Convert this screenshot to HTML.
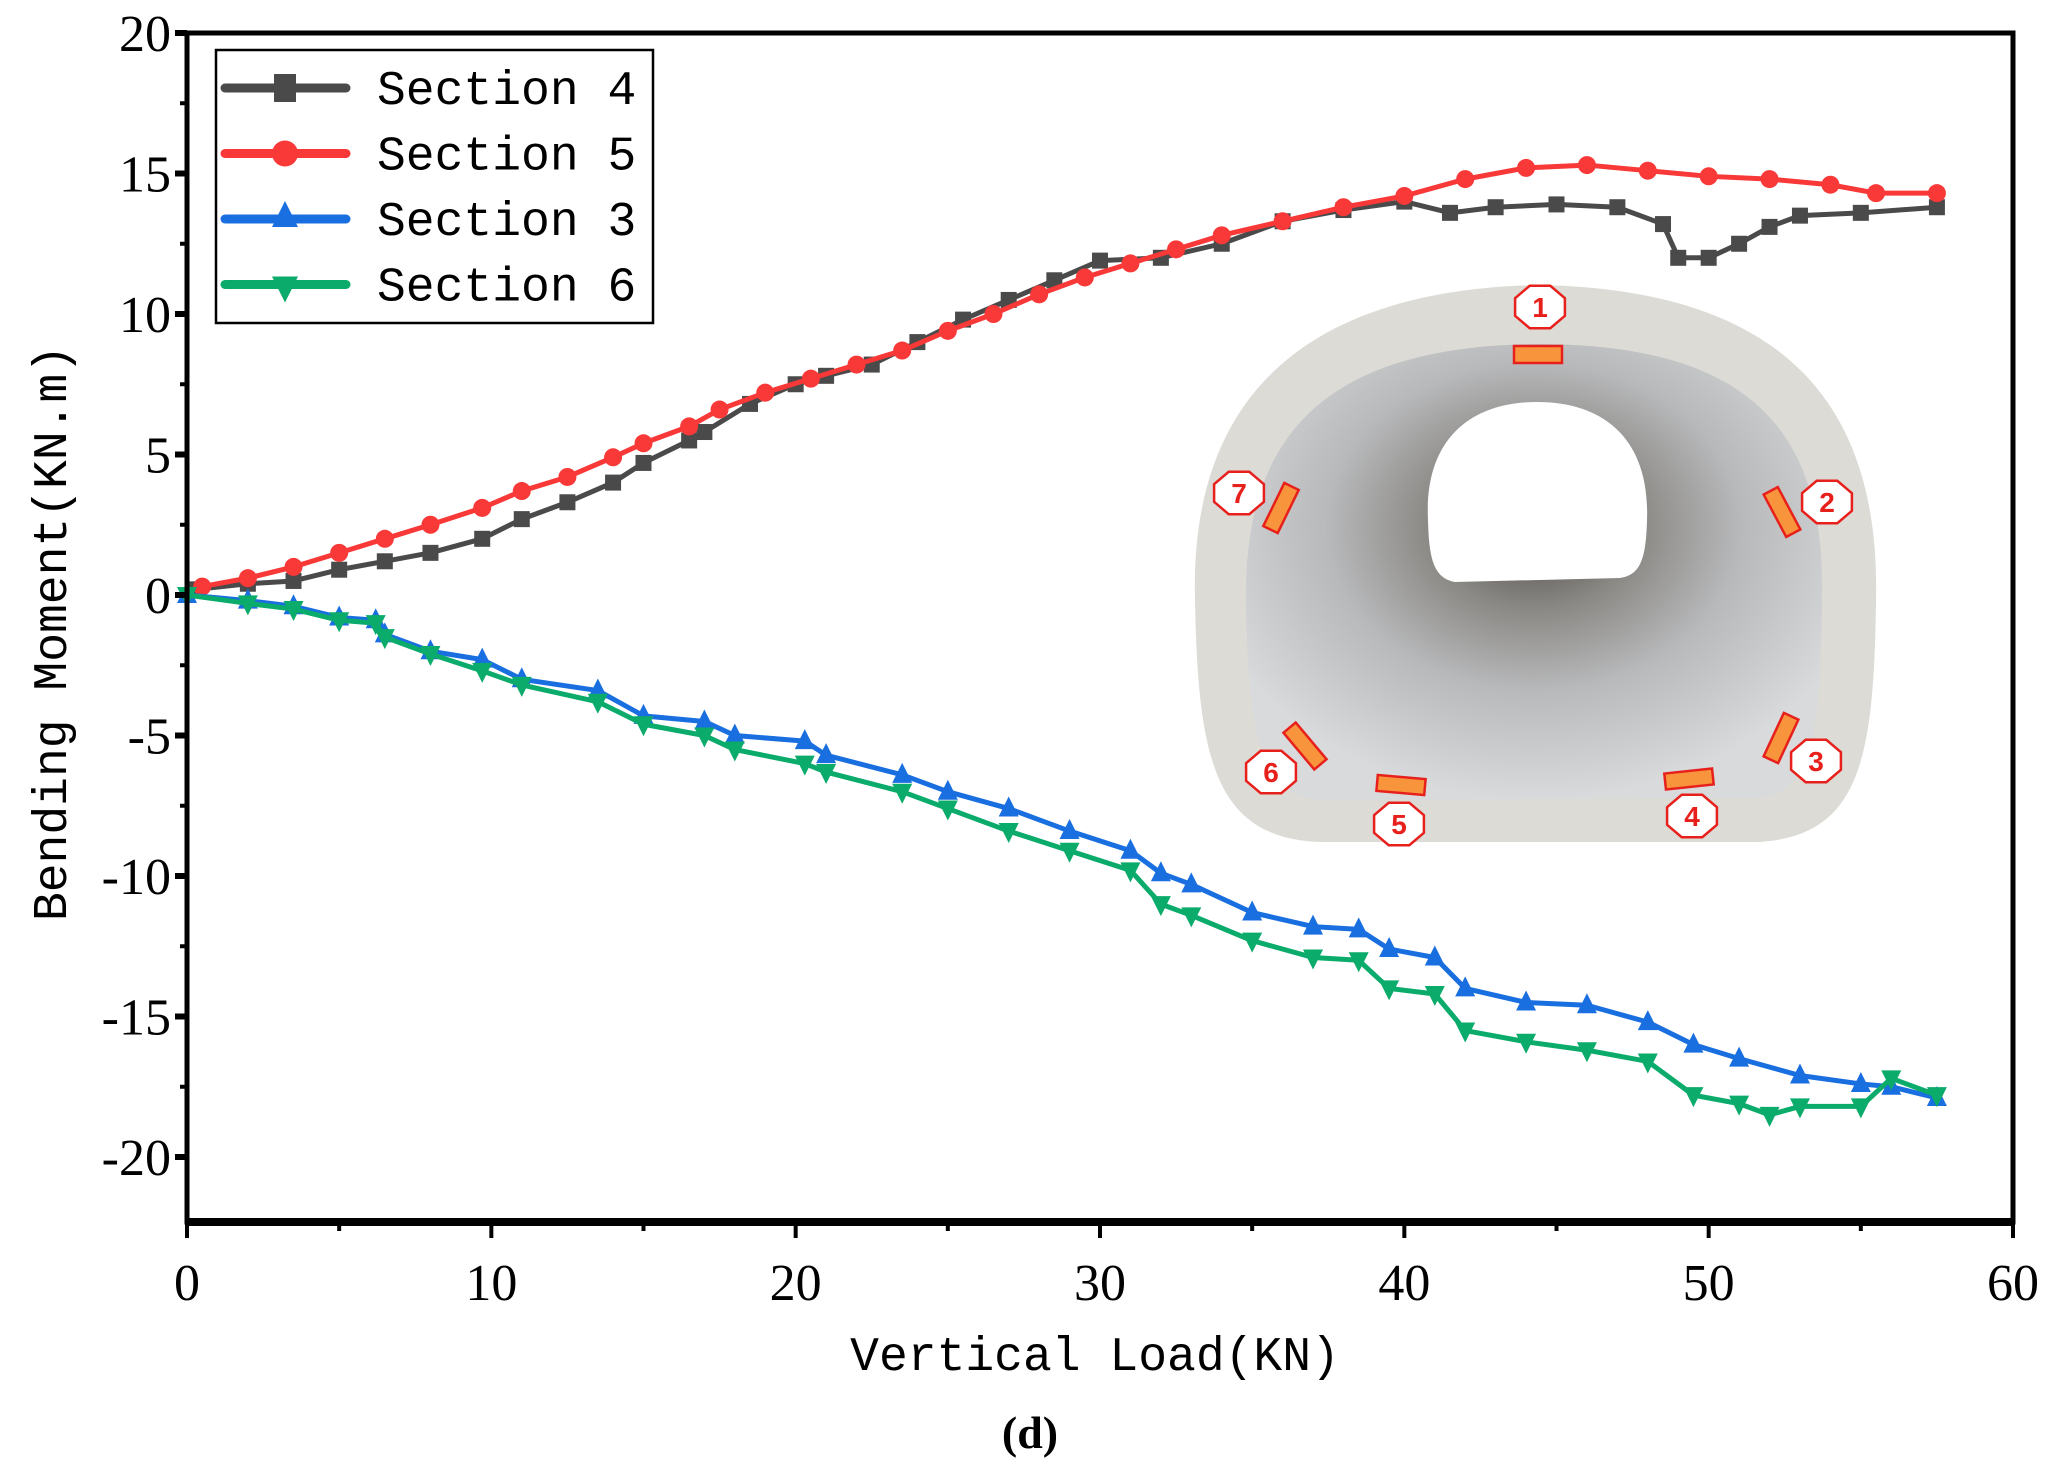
<!DOCTYPE html>
<html><head><meta charset="utf-8"><style>
html,body{margin:0;padding:0;background:#fff;}
svg{display:block;}
.tick{font-family:"Liberation Serif",serif;font-size:52px;}
.mono{font-family:"Liberation Mono",monospace;font-size:48px;}
</style></head><body>
<svg id="chart" width="2053" height="1472" viewBox="0 0 2053 1472" xmlns="http://www.w3.org/2000/svg">
<defs>
<radialGradient id="inner" cx="0.5" cy="0.4" r="0.6">
<stop offset="0" stop-color="#4a4642"/><stop offset="0.3" stop-color="#8a8884"/><stop offset="0.6" stop-color="#b8b9bb"/><stop offset="1" stop-color="#d8dadc"/>
</radialGradient>
</defs>
<g id="inset">
<path d="M1195,600 C1190,420 1280,290 1540,285 C1800,290 1880,420 1876,600 C1874,760 1860,835 1760,842 L1320,842 C1215,838 1198,760 1195,600 Z" fill="#dcdbd6"/>
<path d="M1246,600 C1244,440 1320,345 1540,344 C1760,345 1826,440 1822,600 C1820,740 1812,790 1760,798 L1320,800 C1262,795 1248,740 1246,600 Z" fill="url(#inner)"/>
<path d="M1428,520 C1424,440 1470,402 1537,402 C1605,402 1650,440 1647,520 C1646,560 1640,575 1620,578 L1455,582 C1434,578 1429,560 1428,520 Z" fill="#fff"/>
<g fill="#f7943c" stroke="#e8201c" stroke-width="2.5">
<rect x="1514" y="346" width="48" height="17"/>
<rect x="1758" y="504" width="48" height="16" transform="rotate(62 1782 512)"/>
<rect x="1757" y="730" width="48" height="16" transform="rotate(-65 1781 738)"/>
<rect x="1665" y="771" width="48" height="16" transform="rotate(-6 1689 779)"/>
<rect x="1377" y="777" width="48" height="16" transform="rotate(5 1401 785)"/>
<rect x="1281" y="738" width="48" height="16" transform="rotate(50 1305 746)"/>
<rect x="1257" y="500" width="48" height="16" transform="rotate(-64 1281 508)"/>
</g>
<g id="labels"></g>
</g>
<g id="plot"></g>
</svg>
<script>
const xTicks=[0,10,20,30,40,50,60];
const yTicks=[20,15,10,5,0,-5,-10,-15,-20];
const s4x=[0.3,2,3.5,5,6.5,8,9.7,11,12.5,14,15,16.5,17,18.5,20,21,22.5,24,25.5,27,28.5,30,32,34,36,38,40,41.5,43,45,47,48.5,49,50,51,52,53,55,57.5];
const s4y=[0.2,0.4,0.5,0.9,1.2,1.5,2,2.7,3.3,4,4.7,5.5,5.8,6.8,7.5,7.8,8.2,9,9.8,10.5,11.2,11.9,12,12.5,13.3,13.7,14,13.6,13.8,13.9,13.8,13.2,12,12,12.5,13.1,13.5,13.6,13.8];
const s5x=[0.5,2,3.5,5,6.5,8,9.7,11,12.5,14,15,16.5,17.5,19,20.5,22,23.5,25,26.5,28,29.5,31,32.5,34,36,38,40,42,44,46,48,50,52,54,55.5,57.5];
const s5y=[0.3,0.6,1,1.5,2,2.5,3.1,3.7,4.2,4.9,5.4,6,6.6,7.2,7.7,8.2,8.7,9.4,10,10.7,11.3,11.8,12.3,12.8,13.3,13.8,14.2,14.8,15.2,15.3,15.1,14.9,14.8,14.6,14.3,14.3];
const s3x=[0,2,3.5,5,6.2,6.5,8,9.7,11,13.5,15,17,18,20.3,21,23.5,25,27,29,31,32,33,35,37,38.5,39.5,41,42,44,46,48,49.5,51,53,55,56,57.5];
const s3y=[0,-0.2,-0.4,-0.8,-0.9,-1.4,-2,-2.3,-3,-3.4,-4.3,-4.5,-5,-5.2,-5.7,-6.4,-7,-7.6,-8.4,-9.1,-9.9,-10.3,-11.3,-11.8,-11.9,-12.6,-12.9,-14,-14.5,-14.6,-15.2,-16,-16.5,-17.1,-17.4,-17.5,-17.9];
const s6x=[0,2,3.5,5,6.2,6.5,8,9.7,11,13.5,15,17,18,20.3,21,23.5,25,27,29,31,32,33,35,37,38.5,39.5,41,42,44,46,48,49.5,51,52,53,55,56,57.5];
const s6y=[0,-0.3,-0.5,-0.9,-1,-1.5,-2.1,-2.7,-3.2,-3.8,-4.6,-5,-5.5,-6,-6.3,-7,-7.6,-8.4,-9.1,-9.8,-11,-11.4,-12.3,-12.9,-13,-14,-14.2,-15.5,-15.9,-16.2,-16.6,-17.8,-18.1,-18.5,-18.2,-18.2,-17.2,-17.8];
const sensorNums=["1","2","3","4","5","6","7"];

const L=187,R=2013,T=33,B=1222;
const xs=v=>L+(v-0)/60*(R-L);
const Y0=595,PY=28.1;
const ys=v=>Y0-v*PY;
const NS="http://www.w3.org/2000/svg";
const plot=document.getElementById('plot');
function mk(tag,attrs,parent){const e=document.createElementNS(NS,tag);for(const k in attrs)e.setAttribute(k,attrs[k]);(parent||plot).appendChild(e);return e;}

const labPos=[[1540,307],[1827,502],[1816,761],[1692,816],[1399,824],[1271,772],[1239,493]];
const lg=document.getElementById('labels');
sensorNums.forEach((n,i)=>{
  const [cx,cy]=labPos[i];let pts=[];
  for(let k=0;k<8;k++){const a=Math.PI/8+k*Math.PI/4;pts.push((cx+27*Math.cos(a)).toFixed(1)+','+(cy+23*Math.sin(a)).toFixed(1));}
  const p=mk('polygon',{points:pts.join(' '),fill:'#fff',stroke:'#e8201c','stroke-width':2.5},lg);
  
  
  const t=mk('text',{x:cx,y:cy+10,'text-anchor':'middle','font-family':'Liberation Sans, sans-serif','font-weight':'bold','font-size':28,fill:'#e8201c'},lg);
  t.textContent=n;
  
  
});

function series(xa,ya,color,marker,name){
  const g=mk('g',{});
  
  
  mk('polyline',{points:xa.map((x,i)=>xs(x)+','+ys(ya[i])).join(' '),fill:'none',stroke:color,'stroke-width':5,'stroke-linejoin':'round'},g);
  xa.forEach((x,i)=>{
    const cx=xs(x),cy=ys(ya[i]);let m;
    if(marker==='sq')m=mk('rect',{x:cx-8,y:cy-8,width:16,height:16,fill:color},g);
    else if(marker==='ci')m=mk('circle',{cx:cx,cy:cy,r:9,fill:color},g);
    else if(marker==='up')m=mk('polygon',{points:`${cx},${cy-12} ${cx-10},${cy+8} ${cx+10},${cy+8}`,fill:color},g);
    else m=mk('polygon',{points:`${cx},${cy+12} ${cx-10},${cy-8} ${cx+10},${cy-8}`,fill:color},g);
    
    
  });
}
series(s4x,s4y,'#4a4a4a','sq','section-4-series');
series(s5x,s5y,'#f93838','ci','section-5-series');
series(s3x,s3y,'#1a6fe0','up','section-3-series');
series(s6x,s6y,'#0aab6b','dn','section-6-series');

const fr=mk('rect',{x:L,y:T,width:R-L,height:B-T,fill:'none',stroke:'#000','stroke-width':5});


const xb=mk('line',{x1:L-2,x2:R+2,y1:B,y2:B,stroke:'#000','stroke-width':8});


for(let v=0;v<=60;v+=5){
  const major=v%10===0;
  const t=mk('line',{x1:xs(v),x2:xs(v),y1:B,y2:B+(major?16:9),stroke:'#000','stroke-width':4});
  
  
}
xTicks.forEach(v=>{
  const t=mk('text',{x:xs(v),y:1300,'text-anchor':'middle',class:'tick'});
  t.textContent=v;
  
  
});
for(let v=20;v>=-20;v-=2.5){
  const major=v%5===0;
  const t=mk('line',{x1:L,x2:L-(major?12:7),y1:ys(v),y2:ys(v),stroke:'#000','stroke-width':major?6:4});
  
  
}
yTicks.forEach(v=>{
  const t=mk('text',{x:L-16,y:ys(v)+18,'text-anchor':'end',class:'tick'});
  t.textContent=v<0?'-'+Math.abs(v):v;
  
  
});
const xt=mk('text',{x:1095,y:1370,'text-anchor':'middle',class:'mono'});
xt.textContent='Vertical Load(KN)';


const yt=mk('text',{x:0,y:0,'text-anchor':'middle',class:'mono',transform:'translate(66,633) rotate(-90)'});
yt.textContent='Bending Moment(KN.m)';


const cap=mk('text',{x:1030,y:1448,'text-anchor':'middle','font-family':'Liberation Serif, serif','font-weight':'bold','font-size':46});
cap.textContent='(d)';



const lgd=mk('g',{});


mk('rect',{x:216,y:50,width:437,height:273,fill:'#fff',stroke:'#000','stroke-width':2.5},lgd);
const ents=[['Section 4','#4a4a4a','sq'],['Section 5','#f93838','ci'],['Section 3','#1a6fe0','up'],['Section 6','#0aab6b','dn']];
ents.forEach((e,i)=>{
  const y=88+i*65.5;
  const ge=mk('g',{},lgd);
  
  
  mk('line',{x1:225,x2:346,y1:y,y2:y,stroke:e[1],'stroke-width':9,'stroke-linecap':'round'},ge);
  const cx=285,cy=y;
  if(e[2]==='sq')mk('rect',{x:cx-11,y:cy-14,width:22,height:28,fill:e[1]},ge);
  else if(e[2]==='ci')mk('circle',{cx:cx,cy:cy,r:13,fill:e[1]},ge);
  else if(e[2]==='up')mk('polygon',{points:`${cx},${cy-18} ${cx-13},${cy+8} ${cx+13},${cy+8}`,fill:e[1]},ge);
  else mk('polygon',{points:`${cx},${cy+18} ${cx-13},${cy-8} ${cx+13},${cy-8}`,fill:e[1]},ge);
  const t=mk('text',{x:377,y:y+16,class:'mono'},ge);
  t.textContent=e[0];
});
</script>
</body></html>
